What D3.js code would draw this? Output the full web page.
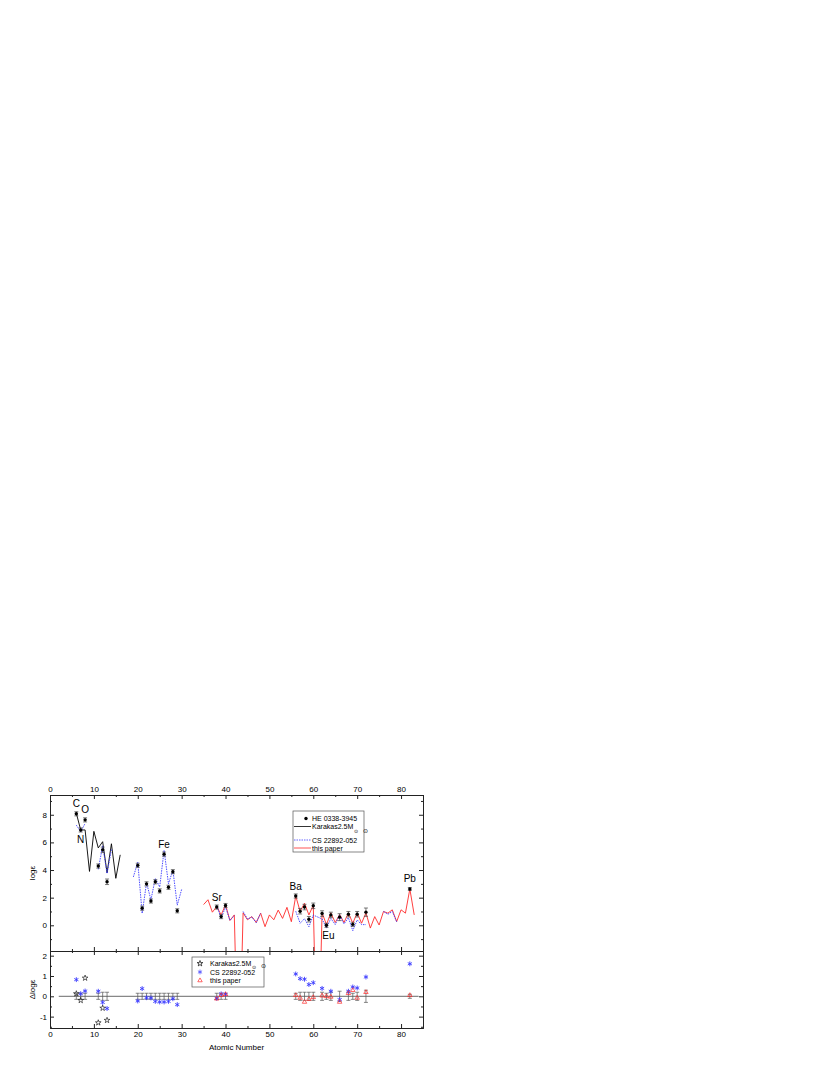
<!DOCTYPE html>
<html>
<head>
<meta charset="utf-8">
<script src="https://cdn.jsdelivr.net/npm/d3@7"></script>
<style>
  body { margin: 0; background: #fff; }
  svg { font-family: "Liberation Sans", Arial, sans-serif; }
  .axis text { font-size: 8px; fill: #000; }
  .axis line, .axis path { stroke: #222; }
</style>
</head>
<body>
<svg id="chart" width="830" height="1075"></svg>
<script>
// observed abundances, HE 0338-3945
var obsZ   = [6, 7, 8, 11, 12, 13, 20, 21, 22, 23, 24, 25, 26, 27, 28, 29, 38, 39, 40,
              56, 57, 58, 59, 60, 62, 63, 64, 66, 68, 69, 70, 72, 82];
var obsVal = [8.07, 6.9, 7.63, 4.29, 5.46, 3.15, 4.34, 1.24, 3.0, 1.76, 3.15, 2.49, 5.15, 2.75, 3.88, 1.05, 1.32, 0.63, 1.43,
              2.12, 1.02, 1.32, 0.44, 1.41, 0.85, 0.0, 0.75, 0.59, 0.8, 0.07, 0.8, 0.95, 2.63];
var obsErr = [0.15, 0.15, 0.15, 0.15, 0.2, 0.2, 0.15, 0.15, 0.15, 0.15, 0.15, 0.15, 0.15, 0.15, 0.15, 0.15, 0.15, 0.15, 0.15,
              0.15, 0.2, 0.2, 0.2, 0.2, 0.2, 0.15, 0.2, 0.25, 0.2, 0.15, 0.2, 0.3, 0.1];

// Karakas 2.5 Msun model
var karZ   = [6, 7, 8, 9, 10, 11, 12, 13, 14, 15, 16];
var karVal = [8.1, 6.9, 6.9, 3.9, 6.8, 5.6, 6.05, 3.8, 5.9, 3.4, 5.1];

// CS 22892-052 (null = gap)
var csZ   = [6, 7, 8, 9, 11, 12, 13, 14, 15, 19, 20, 21, 22, 23, 24, 25, 26, 27, 28, 29, 30, 31,
             38, 39, 40, 41, 42, 43, 44, 45, 46, 47, 48, 49,
             56, 57, 58, 59, 60, 62, 63, 64, 65, 66, 67, 68, 69, 70, 71, 72, 73, 76, 77, 78, 79];
var csVal = [7.25, 6.77, 7.37, null, 4.05, 5.76, 3.75, 5.5, null, 3.5, 4.57, 0.86, 3.07, 1.84, 3.4, 2.77, 5.43, 3.0, 4.0, 1.46, 2.6, null,
             1.42, 0.51, 1.33, 0.35, 0.7, null, 1.0, 0.45, 0.6, 0.2, 0.85, null,
             1.02, 0.15, 0.48, -0.1, 0.74, 0.46, -0.2, 0.5, 0.05, 0.75, 0.1, 0.55, -0.39, 0.39, 0.05, 0.05, null, 1.0, 0.8, 1.0, 0.25];

// this paper model
var redZ   = [35, 36, 37, 38, 39, 40, 41, 42, 43, 44, 45, 46, 47, 48, 49, 50, 51, 52, 53, 54, 55, 56, 57, 58, 59,
              60, 61, 62, 63, 64, 65, 66, 67, 68, 69, 70, 71, 72, 73, 74, 75, 76, 77, 78, 79, 80, 81, 82, 83];
var redVal = [1.5, 1.85, 0.95, 1.36, 0.75, 1.49, 0.35, 0.75, -12, 0.9, 0.4, 0.63, 0.2, 0.88, -0.1, 0.75, 0.4, 1.1, 0.5, 1.3, 0.26, 2.12, 1.0, 1.6, 0.75,
              1.46, -12, 0.9, 0.05, 0.9, 0.2, 0.78, 0.2, 0.9, 0.15, 0.9, 0.15, 0.9, -0.2, 0.63, 0.02, 1.0, 0.88, 1.12, 0.27, 1.12, 0.88, 2.63, 0.75];

// residuals (lower panel)
var karResZ = [6, 7, 8, 11, 12, 13];
var karRes  = [0.13, -0.2, 0.9, -1.3, -0.58, -1.18];
var csResZ  = [6, 7, 8, 11, 12, 13, 20, 21, 22, 23, 24, 25, 26, 27, 28, 29, 38, 39, 40,
               56, 57, 58, 59, 60, 62, 64, 66, 68, 69, 70, 72, 82];
var csRes   = [0.82, 0.13, 0.26, 0.25, -0.3, -0.6, -0.23, 0.38, -0.07, -0.08, -0.25, -0.28, -0.28, -0.25, -0.12, -0.41, -0.1, 0.12, 0.1,
               1.1, 0.87, 0.84, 0.58, 0.67, 0.39, 0.25, -0.16, 0.25, 0.46, 0.41, 0.95, 1.6];
var redResZ = [38, 39, 40, 56, 57, 58, 59, 60, 62, 63, 64, 66, 68, 69, 70, 72, 82];
var redRes  = [-0.12, 0.05, 0.1, 0.05, -0.08, -0.28, -0.14, -0.05, 0.03, 0.0, -0.03, -0.28, 0.15, 0.3, -0.08, 0.2, 0.05];

// element labels
var labText = ["C", "O", "N", "Fe", "Sr", "Ba", "Eu", "Pb"];
var labZ    = [6, 8, 7, 26, 38, 56, 63, 82];
var labSide = [-1, -1, 1, -1, -1, -1, 1, -1];

var xTicks = [0, 10, 20, 30, 40, 50, 60, 70, 80];
var xMinor = [5, 15, 25, 35, 45, 55, 65, 75, 85];

var svg = d3.select("#chart");
var L = 50, R = 423, T1 = 795, B1 = 951, B2 = 1028;

var x = d3.scaleLinear().domain([0, 85]).range([L, R]);
var yTop = d3.scaleLinear().domain([-1.86, 9.43]).range([B1, T1]);
var yBot = d3.scaleLinear().domain([-1.56, 2.23]).range([B2, B1]);

var BLUE = "#3a3aff", RED = "#ff2a2a";
var plain = function(d){ return String(d); };

svg.append("defs").append("clipPath").attr("id", "clipTop")
  .append("rect").attr("x", L).attr("y", T1).attr("width", R - L).attr("height", B1 - T1);

function zip(zs, vs){ return zs.map(function(z, i){ return {z: z, v: vs[i]}; }); }

// ---- axes
function addAxis(axis, tx, ty){
  return svg.append("g").attr("class", "axis")
    .attr("transform", "translate(" + tx + "," + ty + ")").call(axis);
}
// top panel
addAxis(d3.axisTop(x).tickValues(xTicks).tickSize(-4).tickSizeOuter(0).tickFormat(plain), 0, T1);
addAxis(d3.axisTop(x).tickValues(xMinor).tickSize(-2).tickSizeOuter(0).tickFormat(""), 0, T1);
addAxis(d3.axisBottom(x).tickValues(xTicks).tickSize(-4).tickSizeOuter(0).tickFormat(""), 0, B1);
addAxis(d3.axisBottom(x).tickValues(xMinor).tickSize(-2).tickSizeOuter(0).tickFormat(""), 0, B1);
addAxis(d3.axisLeft(yTop).tickValues([0, 2, 4, 6, 8]).tickSize(-4).tickSizeOuter(0).tickFormat(plain), L, 0);
addAxis(d3.axisLeft(yTop).tickValues([-1, 1, 3, 5, 7, 9]).tickSize(-2).tickSizeOuter(0).tickFormat(""), L, 0);
addAxis(d3.axisRight(yTop).tickValues([0, 2, 4, 6, 8]).tickSize(-4).tickSizeOuter(0).tickFormat(""), R, 0);
addAxis(d3.axisRight(yTop).tickValues([-1, 1, 3, 5, 7, 9]).tickSize(-2).tickSizeOuter(0).tickFormat(""), R, 0);
// lower panel
addAxis(d3.axisTop(x).tickValues(xTicks).tickSize(-4).tickSizeOuter(0).tickFormat(""), 0, B1);
addAxis(d3.axisTop(x).tickValues(xMinor).tickSize(-2).tickSizeOuter(0).tickFormat(""), 0, B1);
addAxis(d3.axisBottom(x).tickValues(xTicks).tickSize(-4).tickSizeOuter(0).tickFormat(plain), 0, B2);
addAxis(d3.axisBottom(x).tickValues(xMinor).tickSize(-2).tickSizeOuter(0).tickFormat(""), 0, B2);
addAxis(d3.axisLeft(yBot).tickValues([-1, 0, 1, 2]).tickSize(-4).tickSizeOuter(0).tickFormat(plain), L, 0);
addAxis(d3.axisLeft(yBot).tickValues([-1.5, -0.5, 0.5, 1.5]).tickSize(-2).tickSizeOuter(0).tickFormat(""), L, 0);
addAxis(d3.axisRight(yBot).tickValues([-1, 0, 1, 2]).tickSize(-4).tickSizeOuter(0).tickFormat(""), R, 0);
addAxis(d3.axisRight(yBot).tickValues([-1.5, -0.5, 0.5, 1.5]).tickSize(-2).tickSizeOuter(0).tickFormat(""), R, 0);

// axis titles
svg.append("text").attr("transform", "translate(35," + ((T1 + B1) / 2) + ") rotate(-90)")
  .attr("text-anchor", "middle").style("font-size", "8px").text("log\u03B5");
svg.append("text").attr("transform", "translate(35," + ((B1 + B2) / 2) + ") rotate(-90)")
  .attr("text-anchor", "middle").style("font-size", "8px").text("\u0394log\u03B5");
svg.append("text").attr("x", (L + R) / 2).attr("y", 1050)
  .attr("text-anchor", "middle").style("font-size", "8px").text("Atomic Number");

// ---- top panel lines
var lineTop = d3.line().defined(function(d){ return d.v !== null; })
  .x(function(d){ return x(d.z); }).y(function(d){ return yTop(d.v); });

var gTop = svg.append("g").attr("clip-path", "url(#clipTop)");
gTop.append("path").datum(zip(karZ, karVal)).attr("d", lineTop)
  .attr("fill", "none").attr("stroke", "#000").attr("stroke-width", 0.9);
gTop.append("path").datum(zip(redZ, redVal)).attr("d", lineTop)
  .attr("fill", "none").attr("stroke", RED).attr("stroke-width", 0.9);
gTop.append("path").datum(zip(csZ, csVal)).attr("d", lineTop)
  .attr("fill", "none").attr("stroke", BLUE).attr("stroke-width", 0.9)
  .attr("stroke-dasharray", "1.5,1");

// observed points with error bars
var obs = obsZ.map(function(z, i){ return {z: z, v: obsVal[i], e: obsErr[i]}; });
var eb = gTop.selectAll(".eb").data(obs).enter().append("g").attr("class", "eb")
  .attr("stroke", "#444").attr("stroke-width", 0.7);
eb.append("line")
  .attr("x1", function(d){ return x(d.z); }).attr("x2", function(d){ return x(d.z); })
  .attr("y1", function(d){ return yTop(d.v - d.e); }).attr("y2", function(d){ return yTop(d.v + d.e); });
[-1, 1].forEach(function(s){
  eb.append("line")
    .attr("x1", function(d){ return x(d.z) - 2; }).attr("x2", function(d){ return x(d.z) + 2; })
    .attr("y1", function(d){ return yTop(d.v + s * d.e); }).attr("y2", function(d){ return yTop(d.v + s * d.e); });
});
gTop.selectAll(".obs").data(obs).enter().append("circle").attr("class", "obs")
  .attr("cx", function(d){ return x(d.z); }).attr("cy", function(d){ return yTop(d.v); })
  .attr("r", 1.7).attr("fill", "#000");

// element labels
labText.forEach(function(t, i){
  var j = obsZ.indexOf(labZ[i]);
  svg.append("text").attr("x", x(labZ[i]) + (t === "Eu" ? 2 : 0))
    .attr("y", yTop(obsVal[j]) + labSide[i] * 10)
    .attr("text-anchor", "middle").attr("dominant-baseline", "central")
    .style("font-size", "10px").text(t);
});

// top legend
var lg = svg.append("g").attr("transform", "translate(293,811)");
lg.append("rect").attr("width", 71).attr("height", 41).attr("fill", "#fff")
  .attr("stroke", "#555").attr("stroke-width", 0.7);
var legRows = [
  {t: "HE 0338-3945", y: 7.5, k: "dot"},
  {t: "Karakas2.5M", y: 15.5, k: "black"},
  {t: "CS 22892-052", y: 29, k: "blue"},
  {t: "this paper", y: 37, k: "red"}
];
legRows.forEach(function(r){
  if (r.k === "dot") {
    lg.append("circle").attr("cx", 13).attr("cy", r.y).attr("r", 1.7).attr("fill", "#000");
  } else {
    lg.append("line").attr("x1", 1).attr("x2", 18).attr("y1", r.y).attr("y2", r.y)
      .attr("stroke", r.k === "black" ? "#000" : r.k === "blue" ? BLUE : RED)
      .attr("stroke-width", 0.8)
      .attr("stroke-dasharray", r.k === "blue" ? "1.5,1" : null);
  }
  lg.append("text").attr("x", 19).attr("y", r.y).attr("dominant-baseline", "central")
    .style("font-size", "7px").text(r.t);
});
lg.append("text").attr("x", 61).attr("y", 19.5).attr("dominant-baseline", "central")
  .style("font-size", "5px").text("\u2299");
lg.append("text").attr("x", 70).attr("y", 19.5).attr("dominant-baseline", "central")
  .style("font-size", "6px").text("\u2299");

// ---- lower panel
svg.append("line").attr("x1", x(2)).attr("x2", x(84)).attr("y1", yBot(0)).attr("y2", yBot(0))
  .attr("stroke", "#444").attr("stroke-width", 0.8);

var ebb = svg.selectAll(".ebb").data(obs).enter().append("g").attr("class", "ebb")
  .attr("stroke", "#555").attr("stroke-width", 0.7);
ebb.append("line")
  .attr("x1", function(d){ return x(d.z); }).attr("x2", function(d){ return x(d.z); })
  .attr("y1", function(d){ return yBot(-d.e); }).attr("y2", function(d){ return yBot(d.e); });
[-1, 1].forEach(function(s){
  ebb.append("line")
    .attr("x1", function(d){ return x(d.z) - 2; }).attr("x2", function(d){ return x(d.z) + 2; })
    .attr("y1", function(d){ return yBot(s * d.e); }).attr("y2", function(d){ return yBot(s * d.e); });
});

var star = d3.symbol().type(d3.symbolStar).size(10);
var ast = d3.symbol().type(d3.symbolAsterisk).size(16);
var tri = d3.symbol().type(d3.symbolTriangle2).size(14);

svg.selectAll(".cs").data(zip(csResZ, csRes)).enter().append("path").attr("class", "cs")
  .attr("d", ast)
  .attr("transform", function(d){ return "translate(" + x(d.z) + "," + yBot(d.v) + ")"; })
  .attr("fill", "none").attr("stroke", BLUE).attr("stroke-width", 0.9);
svg.selectAll(".kar").data(zip(karResZ, karRes)).enter().append("path").attr("class", "kar")
  .attr("d", star)
  .attr("transform", function(d){ return "translate(" + x(d.z) + "," + yBot(d.v) + ")"; })
  .attr("fill", "none").attr("stroke", "#000").attr("stroke-width", 0.6);
svg.selectAll(".rr").data(zip(redResZ, redRes)).enter().append("path").attr("class", "rr")
  .attr("d", tri)
  .attr("transform", function(d){ return "translate(" + x(d.z) + "," + yBot(d.v) + ")"; })
  .attr("fill", "none").attr("stroke", RED).attr("stroke-width", 0.7);

// lower legend
var lb = svg.append("g").attr("transform", "translate(192,957)");
lb.append("rect").attr("width", 72).attr("height", 30).attr("fill", "#fff")
  .attr("stroke", "#555").attr("stroke-width", 0.7);
var symRows = [
  {t: "Karakas2.5M", y: 6.5, s: star, c: "#000"},
  {t: "CS 22892-052", y: 15, s: ast, c: BLUE},
  {t: "this paper", y: 23.5, s: tri, c: RED}
];
symRows.forEach(function(r){
  lb.append("path").attr("d", r.s).attr("transform", "translate(8," + r.y + ")")
    .attr("fill", "none").attr("stroke", r.c).attr("stroke-width", 0.7);
  lb.append("text").attr("x", 18).attr("y", r.y).attr("dominant-baseline", "central")
    .style("font-size", "7px").text(r.t);
});
lb.append("text").attr("x", 60).attr("y", 10).attr("dominant-baseline", "central")
  .style("font-size", "5px").text("\u2299");
lb.append("text").attr("x", 69).attr("y", 9).attr("dominant-baseline", "central")
  .style("font-size", "6px").text("\u2299");
</script>
</body>
</html>
